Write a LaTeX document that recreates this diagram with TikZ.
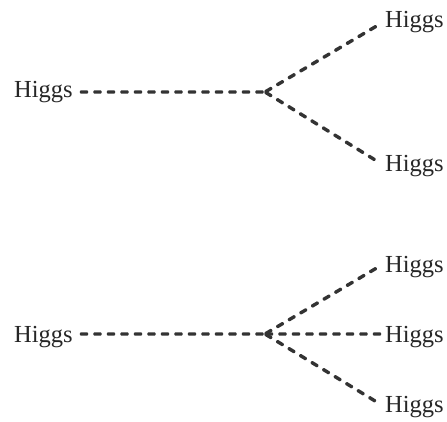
\documentclass[tikz,border=0pt]{standalone}
\usepackage{fontspec}
\setmainfont{Liberation Serif}
\usetikzlibrary{decorations.markings}
\begin{document}
\begin{tikzpicture}[x=1pt,y=1pt,
  lbl/.style={font=\fontsize{24.5}{28}\selectfont, inner sep=0pt, text=black!85},
  prop/.style={decoration={markings, mark=between positions 4pt and -3pt step 13.5pt with {\fill[black!80, rounded corners=1pt] (-4.2pt,-1.7pt) rectangle (4.2pt,1.7pt);}}, postaction={decorate}}]
\useasboundingbox (0,0) rectangle (447,421);
% top diagram (y measured from bottom)
\node[lbl, anchor=base west] (a) at (14,323) {Higgs};
\node[lbl, anchor=base west] (b) at (385,393) {Higgs};
\node[lbl, anchor=base west] (c) at (385,249) {Higgs};
\coordinate (v1) at (265,329);
\coordinate (a1) at (80,329);
\coordinate (b1) at (380,397);
\coordinate (c1) at (380,258);
\path[prop] (a1) -- (v1);
\path[prop] (v1) -- (b1);
\path[prop] (v1) -- (c1);
% bottom diagram
\node[lbl, anchor=base west] (d) at (14,79) {Higgs};
\node[lbl, anchor=base west] (e) at (385,149) {Higgs};
\node[lbl, anchor=base west] (f) at (385,79) {Higgs};
\node[lbl, anchor=base west] (g) at (385,9) {Higgs};
\coordinate (v2) at (265,87);
\coordinate (d1) at (80,87);
\coordinate (e1) at (380,155);
\coordinate (f1) at (380,87);
\coordinate (g1) at (380,17);
\path[prop] (d1) -- (v2);
\path[prop] (v2) -- (e1);
\path[prop] (v2) -- (f1);
\path[prop] (v2) -- (g1);
\end{tikzpicture}
\end{document}
